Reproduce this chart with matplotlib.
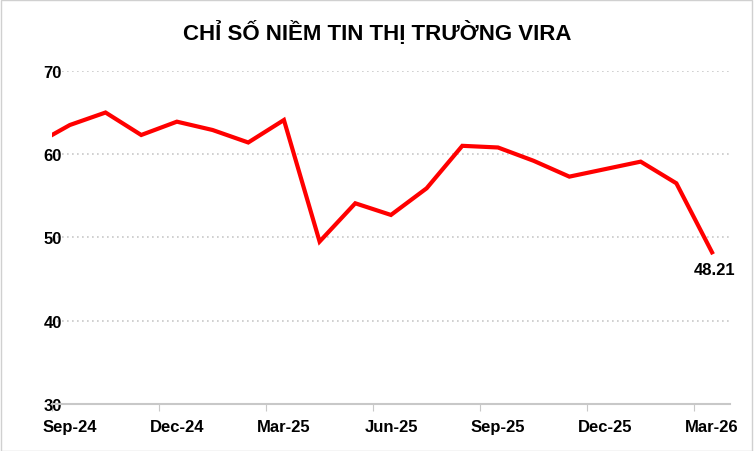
import matplotlib
matplotlib.use("Agg")
import matplotlib.pyplot as plt
from matplotlib.patches import Rectangle

plt.rcParams['font.family'] = ['Liberation Sans', 'DejaVu Sans']

# Dữ liệu (tháng 8/2024 nằm ngoài trục, bị cắt ở mép trái)
months = ["Aug-24", "Sep-24", "Oct-24", "Nov-24", "Dec-24", "Jan-25", "Feb-25", "Mar-25",
          "Apr-25", "May-25", "Jun-25", "Jul-25", "Aug-25", "Sep-25", "Oct-25",
          "Nov-25", "Dec-25", "Jan-26", "Feb-26", "Mar-26"]
values = [61.1, 63.5, 65.0, 62.3, 63.9, 62.9, 61.4, 64.1, 49.5, 54.1, 52.7, 55.9,
          61.0, 60.8, 59.2, 57.3, 58.2, 59.1, 56.5, 48.21]
tick_labels = ["Sep-24", "Dec-24", "Mar-25", "Jun-25", "Sep-25", "Dec-25", "Mar-26"]

x = [i - 0.5 for i in range(len(months))]  # Aug-24 = -0.5, Sep-24 = 0.5

fig = plt.figure(figsize=(7.54, 4.52), dpi=100)
ax = fig.add_axes([0.069, 0.104, 0.899, 0.737])
ax.plot(x, values, color="#ff0000", lw=3, solid_joinstyle="miter", clip_on=True)
ax.set_xlim(0, 19)
ax.set_ylim(30, 70)
ax.set_yticks([30, 40, 50, 60, 70])
ax.yaxis.grid(True, linestyle=(0, (1, 2)), color="#c8c8c8", lw=1.2)
ax.set_axisbelow(True)

ax.set_xticks(range(0, 19, 3))
ax.set_xticklabels([])
ax.set_xticks([m + 0.5 for m in range(0, 19, 3)], minor=True)
ax.set_xticklabels(tick_labels, minor=True, fontweight="bold", fontsize=12)
ax.tick_params(axis="x", which="major", length=5, color="#c8c8c8")
ax.tick_params(axis="x", which="minor", length=0, pad=11)
ax.tick_params(axis="y", length=0, labelsize=12, pad=-7)
for lab in ax.get_yticklabels():
    lab.set_fontweight("bold")

for s in ["top", "right", "left"]:
    ax.spines[s].set_visible(False)
ax.spines["bottom"].set_color("#c8c8c8")
ax.spines["bottom"].set_linewidth(1.5)

ax.annotate(f"{values[-1]:.2f}", (x[-1], values[-1]), xytext=(2, -7),
            textcoords="offset points", ha="center", va="top",
            fontweight="bold", fontsize=12)

fig.text(0.5, 0.927, "CHỈ SỐ NIỀM TIN THỊ TRƯỜNG VIRA", ha="center", va="center",
         fontweight="bold", fontsize=16)
fig.patches.append(Rectangle((0.001, 0.001), 0.997, 0.997, transform=fig.transFigure,
                             fill=False, edgecolor="#d0d0d0", lw=1))

fig.savefig("out.png", dpi=100)
